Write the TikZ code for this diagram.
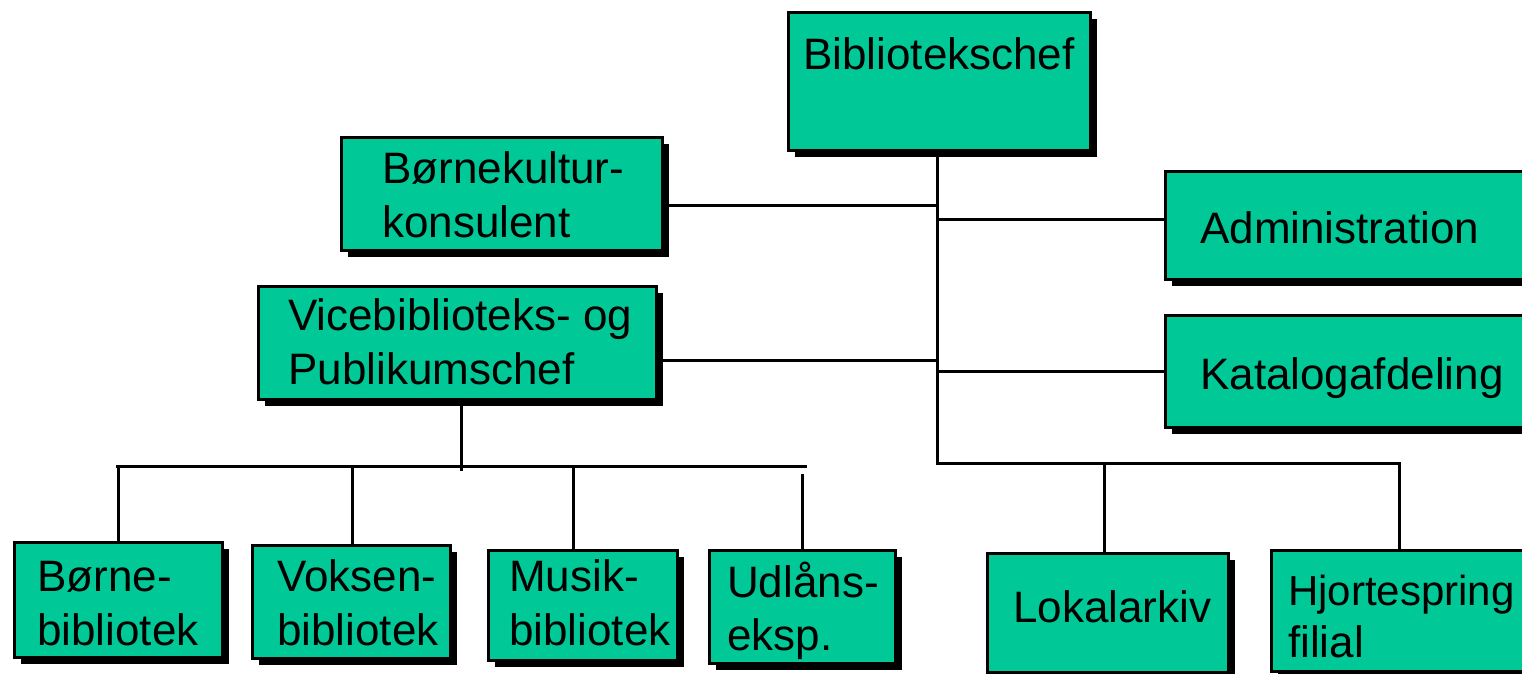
\documentclass[tikz,border=0pt]{standalone}
\usepackage{fontspec}
\setmainfont{Liberation Sans}
\usetikzlibrary{shadows}
\definecolor{boxgreen}{RGB}{0,200,150}
\tikzset{
  box/.style={rectangle, draw=black, line width=3pt, fill=boxgreen, inner sep=0pt, outer sep=0pt, anchor=north west,
    drop shadow={shadow xshift=7pt, shadow yshift=-7pt, fill=black, opacity=1}},
  lbl/.style={anchor=base west, inner sep=0pt, font=\fontsize{44}{54}\selectfont},
  lblsmall/.style={lbl, font=\fontsize{42}{52}\selectfont},
  conn/.style={line width=3pt, draw=black}
}
\begin{document}
\begin{tikzpicture}[x=1pt,y=-1pt]
\useasboundingbox (0,0) rectangle (1522,673);
\clip (0,0) rectangle (1522,673);
\fill[white] (0,0) rectangle (1522,673);
% coordinates for connectors
\coordinate (tr) at (937,463);
\coordinate (j1) at (937,205);
\coordinate (j2) at (937,219);
\coordinate (j3) at (937,360);
\coordinate (j4) at (937,371);
\coordinate (lokx) at (1104,552);
\coordinate (hjx) at (1399,549);
\coordinate (hl) at (116,466);
\coordinate (hr) at (807,466);
\coordinate (vj) at (461,471);
\coordinate (vbx) at (352,544);
\coordinate (mbx) at (573,549);
\coordinate (udx) at (802,549);
\coordinate (udtop) at (802,474);
% connectors (drawn first, boxes on top)
\draw[conn] (937,150) coordinate (chefbot) -- (tr) -| (hjx);
\draw[conn] (lokx) -- (lokx |- tr);
\draw[conn] (hl) -- (hr);
\draw[conn] (udtop) -- (udx);
\draw[conn] (vbx) -- (vbx |- hl);
\draw[conn] (mbx) -- (mbx |- hl);
% boxes
\node[box, minimum width=302pt, minimum height=138pt] (chef) at (788,12) {};
\node[box, minimum width=321pt, minimum height=113pt] (bkk) at (341,137) {};
\node[box, minimum width=398pt, minimum height=113pt] (vice) at (258,286) {};
\node[box, minimum width=360pt, minimum height=108pt] (admin) at (1165,171) {};
\node[box, minimum width=360pt, minimum height=112pt] (kat) at (1165,315) {};
\node[box, minimum width=208pt, minimum height=115pt] (bb) at (14,542) {};
\node[box, minimum width=198pt, minimum height=113pt] (vb) at (252,545) {};
\node[box, minimum width=189pt, minimum height=110pt] (mb) at (488,550) {};
\node[box, minimum width=186pt, minimum height=113pt] (ud) at (709,550) {};
\node[box, minimum width=241pt, minimum height=119pt] (lok) at (987,553) {};
\node[box, minimum width=280pt, minimum height=121pt] (hj) at (1271,550) {};
% connectors touching boxes
\draw[conn] (bkk.east |- j1) -- (j1);
\draw[conn] (vice.east |- j3) -- (j3);
\draw[conn] (j2) -- (admin.west |- j2);
\draw[conn] (j4) -- (kat.west |- j4);
\draw[conn] (vice.south -| vj) -- (vj);
\draw[conn] (bb.north) -- (bb.north |- hl);
% labels
\node[lbl] (t-chef) at (803,69) {Bibliotekschef};
\node[lbl] (t-bkk1) at (382,183) {Børnekultur-};
\node[lbl] (t-bkk2) at (382,237) {konsulent};
\node[lbl] (t-vice1) at (288,330) {Vicebiblioteks- og};
\node[lbl] (t-vice2) at (288,384) {Publikumschef};
\node[lbl] (t-admin) at (1200,243) {Administration};
\node[lbl] (t-kat) at (1200,389) {Katalogafdeling};
\node[lbl] (t-bb1) at (37,591) {Børne-};
\node[lbl] (t-bb2) at (37,645) {bibliotek};
\node[lbl] (t-vb1) at (277,591) {Voksen-};
\node[lbl] (t-vb2) at (277,645) {bibliotek};
\node[lbl] (t-mb1) at (509,591) {Musik-};
\node[lbl] (t-mb2) at (509,645) {bibliotek};
\node[lbl] (t-ud1) at (727,597) {Udlåns-};
\node[lbl] (t-ud2) at (727,650) {eksp.};
\node[lbl] (t-lok) at (1013,622) {Lokalarkiv};
\node[lblsmall] (t-hj1) at (1288,605) {Hjortespring};
\node[lbl] (t-hj2) at (1288,657) {filial};
\end{tikzpicture}
\end{document}
